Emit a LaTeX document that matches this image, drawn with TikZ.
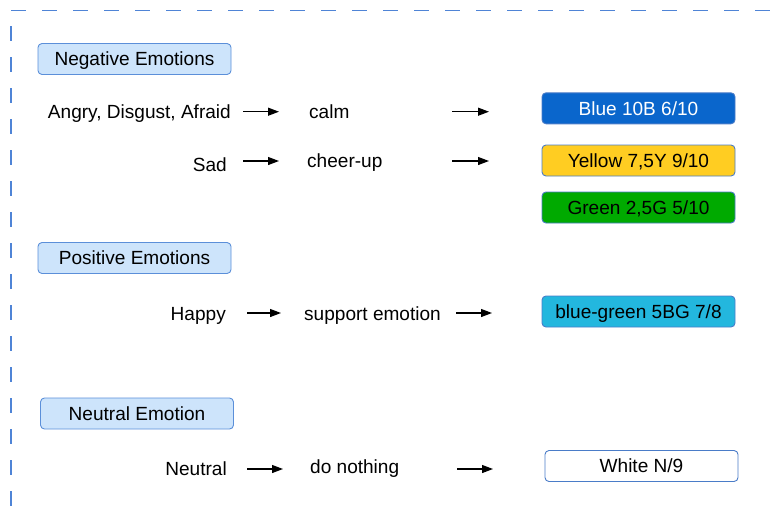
\documentclass[tikz,border=0pt]{standalone}
\usepackage{fontspec}
\setmainfont{Liberation Sans}
\usetikzlibrary{arrows.meta}

\definecolor{frameblue}{HTML}{4F84D6}
\definecolor{headfill}{HTML}{CDE4FB}
\definecolor{headline}{HTML}{5B8FD9}
\definecolor{boxline}{HTML}{4A7CC8}
\definecolor{cblue}{HTML}{0A66CC}
\definecolor{cyellow}{HTML}{FFCD22}
\definecolor{cgreen}{HTML}{00AA00}
\definecolor{cbluegreen}{HTML}{23B7DE}

\tikzset{
  lbl/.style={font=\fontsize{19.05}{23}\selectfont, inner sep=0pt},
  headbox/.style={lbl, draw=headline, fill=headfill, line width=0.9pt,
    rounded corners=4pt, minimum width=193pt, minimum height=31pt,
    text height=13.7pt, text depth=0pt},
  colbox/.style={lbl, draw=boxline, line width=0.9pt,
    rounded corners=4pt, minimum width=193pt, minimum height=31pt,
    text height=13.7pt, text depth=0pt},
  arr/.style={line width=1.2pt, -{Triangle[length=11pt,width=8pt]}},
  frame/.style={frameblue, line width=1.4pt, dash pattern=on 15pt off 16pt}
}

\begin{document}
\begin{tikzpicture}[x=1pt,y=-1pt]
\useasboundingbox (0,0) rectangle (784,512);

% dashed frame (top and left edges)
\draw[frame] (11,10.5) -- (784,10.5);
\draw[frame] (11,26) -- (11,512);

% section headings
\node[headbox] (neg) at (134.5,59)   {Negative Emotions};
\node[headbox] (pos) at (134.5,258)  {Positive Emotions};
\node[headbox] (neu) at (137,413.5)  {Neutral Emotion};

% emotions
\node[lbl, anchor=base east] (angry)   at (231,118)   {Angry, Disgust, Afraid};
\node[lbl, anchor=base east] (sad)     at (227,171)   {Sad};
\node[lbl, anchor=base east] (happy)   at (226,320.5) {Happy};
\node[lbl, anchor=base east] (neutral) at (227,475.5) {Neutral};

% strategies
\node[lbl, anchor=base west] (calm)    at (309,118)   {calm};
\node[lbl, anchor=base west] (cheer)   at (307,167)   {cheer-up};
\node[lbl, anchor=base west] (support) at (304,320)   {support emotion};
\node[lbl, anchor=base west] (nothing) at (310,473.3) {do nothing};

% colours
\node[colbox, fill=cblue, text=white] (blue)   at (638.5,108.3) {Blue 10B 6/10};
\node[colbox, fill=cyellow]           (yellow) at (638.5,160.5) {Yellow 7,5Y 9/10};
\node[colbox, fill=cgreen]            (green)  at (638.5,207.5) {Green 2,5G 5/10};
\node[colbox, fill=cbluegreen]        (bg)     at (638.5,311.5) {blue-green 5BG 7/8};
\node[colbox, fill=white]             (white)  at (641.5,466)   {White N/9};

% arrow end points
\coordinate (a1s) at (243,111.7); \coordinate (a1e) at (279,111.7);
\coordinate (b1s) at (452,111.7); \coordinate (b1e) at (489,111.7);
\coordinate (a2s) at (243,161);   \coordinate (a2e) at (279,161);
\coordinate (b2s) at (452,161);   \coordinate (b2e) at (489,161);
\coordinate (a3s) at (247,313);   \coordinate (a3e) at (281,313);
\coordinate (b3s) at (456,313);   \coordinate (b3e) at (492,313);
\coordinate (a4s) at (247,469);   \coordinate (a4e) at (283,469);
\coordinate (b4s) at (457,469);   \coordinate (b4e) at (493,469);

\foreach \r in {1,2,3,4}{
  \draw[arr] (a\r s) -- (a\r e);
  \draw[arr] (b\r s) -- (b\r e);
}
\end{tikzpicture}
\end{document}
